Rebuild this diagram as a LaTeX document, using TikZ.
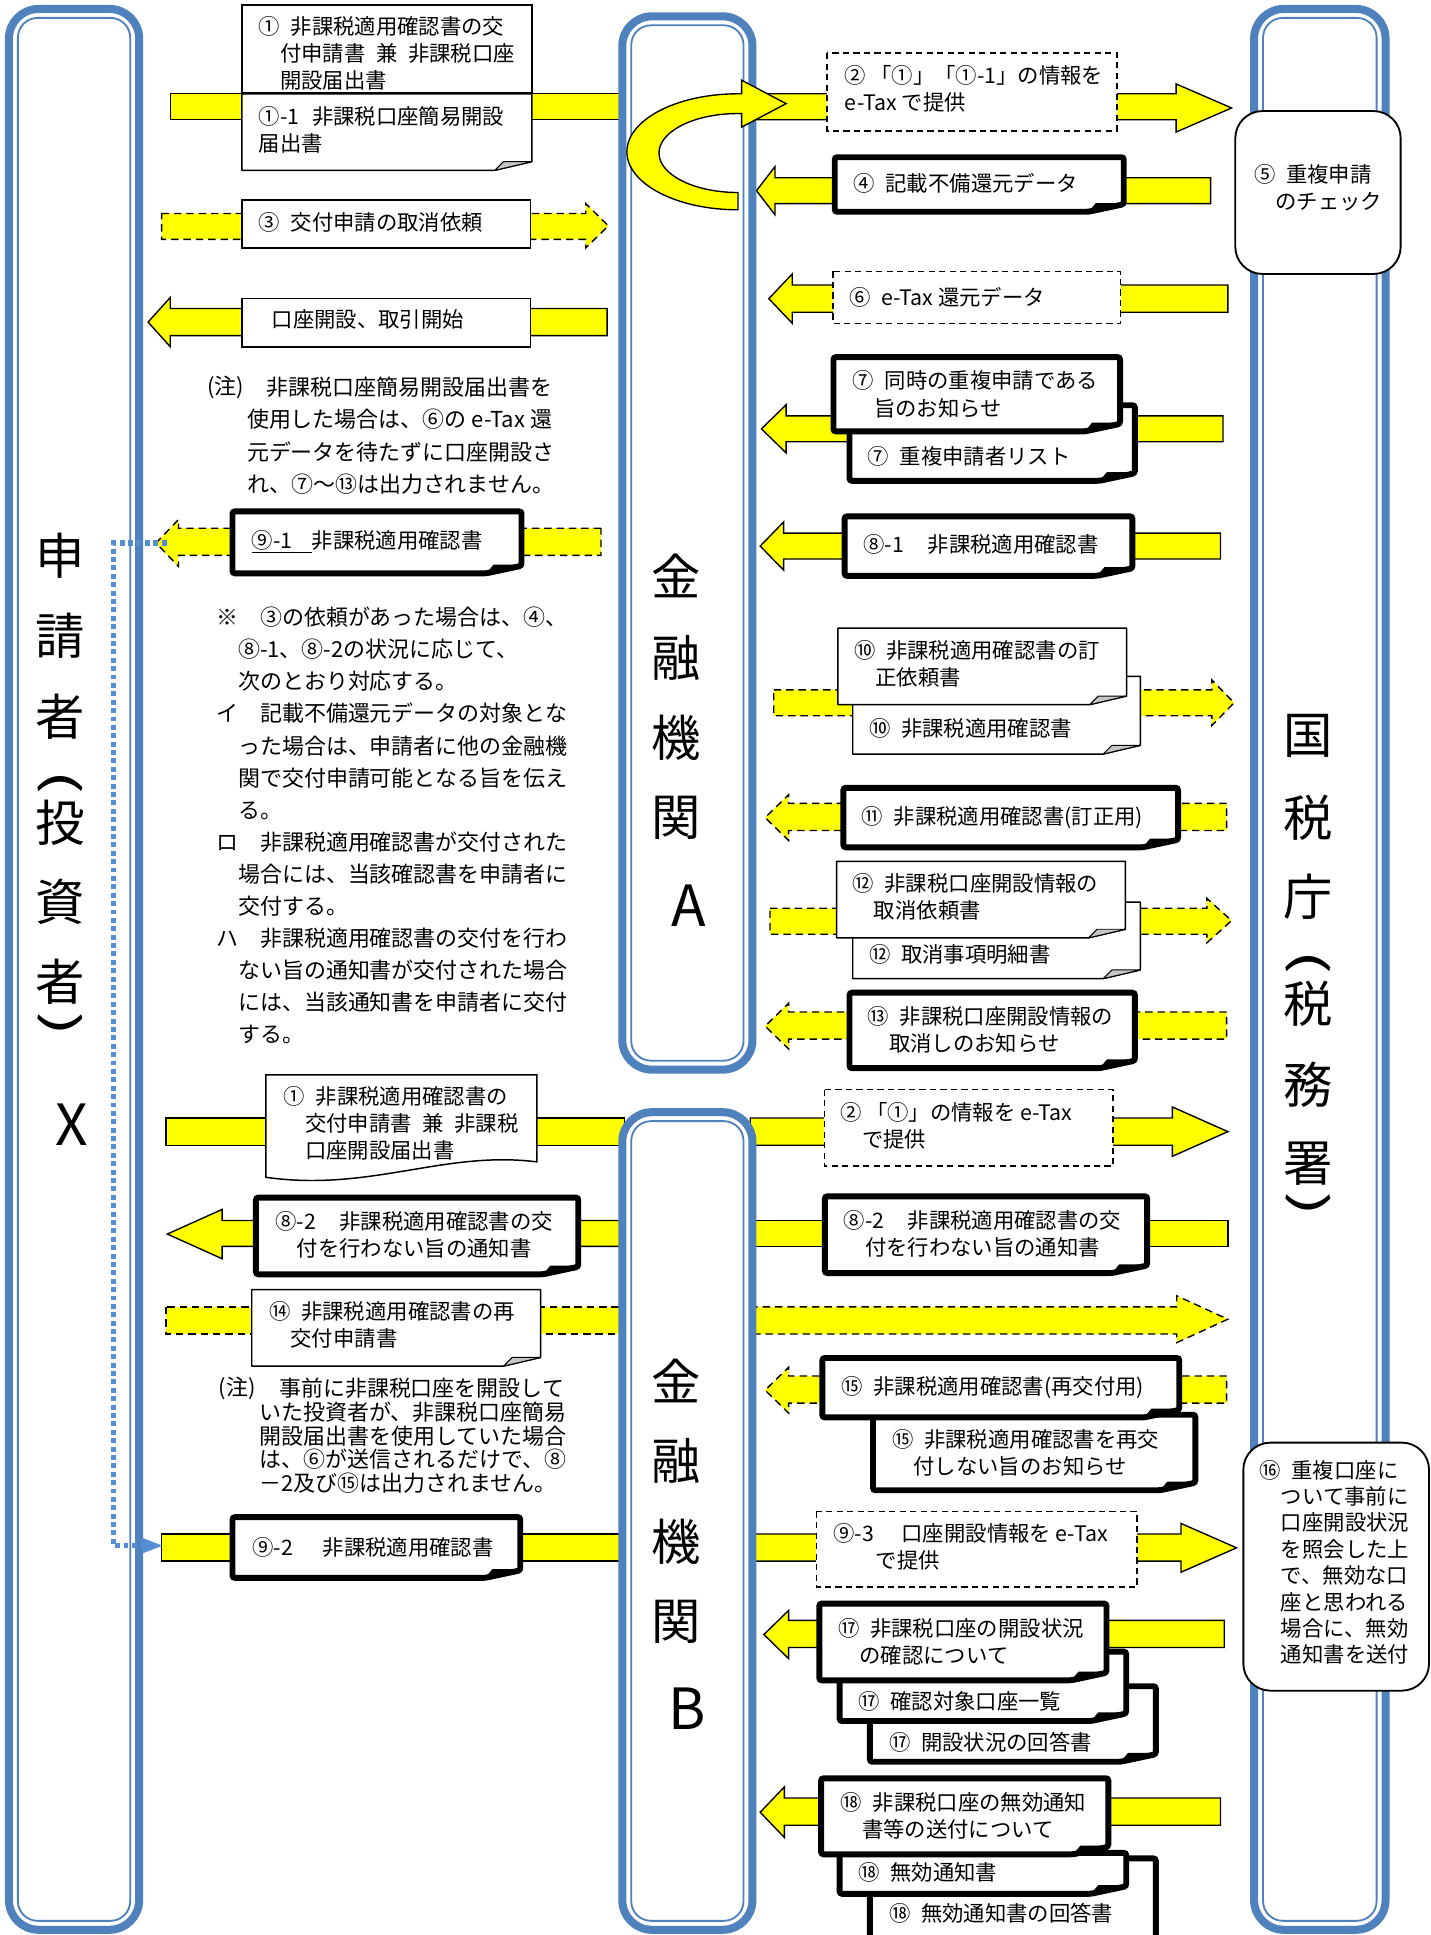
\documentclass[tikz,border=0pt]{standalone}
\usepackage{fontspec}
\setmainfont{Noto Sans CJK JP}
\definecolor{laneblue}{HTML}{4F81BD}
\definecolor{dotblue}{HTML}{558ED5}
\definecolor{ayellow}{HTML}{FFFF00}
\newcommand{\boxfnt}{\fontsize{17.3pt}{22pt}\selectfont}
\newcommand{\notefnt}{\fontsize{17.8pt}{26pt}\selectfont}
\newcommand{\notefntb}{\fontsize{17.8pt}{19.3pt}\selectfont}
\newcommand{\sixfnt}{\fontsize{17.3pt}{21.4pt}\selectfont}
\newcommand{\bigfnt}{\fontsize{40pt}{40pt}\selectfont}
\newcommand{\latfnt}{\fontsize{46pt}{46pt}\selectfont}
\newcommand{\parfnt}{\fontsize{36pt}{36pt}\selectfont}
\newcommand{\gp}{\hspace{0.5em}}
\tikzset{
  arrowsty/.style={fill=ayellow, draw=black, line width=1.1pt, line join=miter},
  dsh/.style={dash pattern=on 6pt off 4pt},
  txt/.style={anchor=west, inner sep=0pt, align=left, font=\boxfnt},
  ntxt/.style={anchor=west, inner sep=0pt, align=left, font=\notefnt},
  big/.style={inner sep=0pt, font=\bigfnt},
  bigl/.style={inner sep=0pt, font=\latfnt},
  vpar/.style={inner sep=0pt, font=\parfnt, rotate=-90, xscale=1.7},
}
% block arrows
\newcommand{\larrow}[8][]{\draw[arrowsty,#1] (#4,#5) -- (#3,#5) -- (#3,#7) -- (#2,{(#7+#8)/2}) -- (#3,#8) -- (#3,#6) -- (#4,#6) -- cycle;}
\newcommand{\rarrow}[8][]{\draw[arrowsty,#1] (#2,#5) -- (#3,#5) -- (#3,#7) -- (#4,{(#7+#8)/2}) -- (#3,#8) -- (#3,#6) -- (#2,#6) -- cycle;}
\newcommand{\ybar}[5][]{\draw[arrowsty,#1] (#2,#3) rectangle (#4,#5);}
% lanes
\newcommand{\lanebox}[4]{%
  \draw[laneblue, line width=6.5pt, fill=white, rounded corners=24pt] ({#1+3.25},{#2+3.25}) rectangle ({#3-3.25},{#4-3.25});
  \draw[laneblue, line width=1.5pt, rounded corners=16pt] ({#1+10.5},{#2+10.5}) rectangle ({#3-10.5},{#4-10.5});}
% boxes
\newcommand{\plainbox}[4]{\draw[fill=white, line width=1.2pt] (#1,#2) rectangle (#3,#4);}
\newcommand{\dshbox}[4]{\draw[fill=white, line width=1.2pt, dash pattern=on 5pt off 3.5pt] (#1,#2) rectangle (#3,#4);}
\newcommand{\roundbox}[4]{\draw[fill=white, line width=1.5pt, rounded corners=22pt] (#1,#2) rectangle (#3,#4);}
\newcommand{\foldbox}[4]{%
  \draw[fill=white, line width=1.2pt, line join=round] (#1,#2) -- (#3,#2) -- (#3,{#4-7}) -- ({#3-30},#4) -- (#1,#4) -- cycle;
  \draw[fill=gray!45, line width=0.8pt, line join=round] ({#3-30},#4) -- ({#3-23},{#4-7}) -- (#3,{#4-7}) -- cycle;}
\newcommand{\thickbox}[4]{%
  \draw[fill=white, line width=4.8pt, rounded corners=2pt] ({#1+2.4},{#2+2.4}) -- ({#3-2.4},{#2+2.4}) -- ({#3-2.4},{#4-8.5}) -- ({#3-31},{#4-2.4}) -- ({#1+2.4},{#4-2.4}) -- cycle;
  \fill ({#3-31},{#4-2.4}) -- ({#3-25},{#4-9.5}) -- ({#3-2.4},{#4-9.5}) -- cycle;}
\begin{document}
\begin{tikzpicture}[x=1pt,y=-1pt]
\useasboundingbox (0,0) rectangle (1159,1568);
\fill[white] (0,0) rectangle (1159,1568);
\begin{scope}
\clip (0,0) rectangle (1159,1568);
% ---------- arrows (behind lanes) ----------
\ybar{138}{76}{506}{97}
\rarrow{608}{953}{998}{76}{97}{68}{107}
\rarrow[dsh]{131}{474.6}{493}{173}{194}{165}{201}
\larrow{120}{138}{492}{250}{272}{241}{281}
\larrow[dsh]{126.5}{144.6}{487}{428}{450}{421}{459}
\larrow{613}{628}{981}{144}{165}{135}{174}
\larrow{623}{642}{995}{231}{253}{222}{262}
\larrow{617}{637}{991}{337}{358}{328}{367}
\larrow{616}{635}{989}{432}{453}{423}{462}
\rarrow[dsh]{627}{982}{1000}{559}{580}{551}{588}
\larrow[dsh]{620}{639}{994}{651}{673}{644}{681}
\rarrow[dsh]{624}{978}{998}{736}{757}{728}{764}
\larrow[dsh]{620}{639}{994}{820}{842}{813}{850}
\ybar{134.5}{906}{506}{928}
\rarrow{608}{950}{995}{906}{928}{897}{937}
\larrow{135.6}{180}{506}{989}{1010}{980}{1020}
\ybar{608}{989}{995}{1010}
\ybar[dsh]{134.5}{1059}{506}{1081}
\rarrow[dsh]{608}{953.5}{995}{1059}{1081}{1050}{1088}
\larrow[dsh]{620}{639}{994}{1115}{1137}{1108}{1145}
\ybar{131}{1243}{506}{1265}
\rarrow{608}{957}{1002}{1243}{1265}{1234.5}{1274}
\larrow{619}{639}{992}{1313}{1335}{1305}{1344}
\larrow{616}{635.6}{989}{1457}{1479}{1448}{1489}
% ---------- lanes ----------
\lanebox{4}{4}{116}{1567}
\lanebox{501}{10}{613}{870}
\lanebox{501}{898}{613}{1567}
\lanebox{1013}{4}{1126}{1567}
% ---------- circular arrow ----------
\draw[arrowsty] (598,76) arc[start angle=270, end angle=90, x radius=90, y radius=47]
  -- (598,156) arc[start angle=90, end angle=270, x radius=64, y radius=32]
  -- (601,92) -- (601,103) -- (637,84) -- (601,65) -- (601,76) -- cycle;
% ---------- boxes ----------
\plainbox{196}{4}{431}{75}
\foldbox{196}{76}{431}{138}
\plainbox{196}{162}{430}{201}
\plainbox{196}{242}{430}{281}
\dshbox{670}{43}{905}{106}
\thickbox{674}{125}{913}{174}
\roundbox{1001}{90}{1135}{222}
\dshbox{675}{220}{908}{262}
\thickbox{686}{326}{922}{392}
\thickbox{673}{287}{910}{352}
\thickbox{682}{416}{920}{469}
\foldbox{691}{548}{924}{611}
\foldbox{679}{509}{913}{571}
\thickbox{681}{636}{957}{689}
\foldbox{691}{731}{924}{793}
\foldbox{678}{698}{912}{760}
\thickbox{686}{802}{922}{868}
\thickbox{186}{412}{425}{467}
\draw[fill=white, line width=1.2pt] (215.5,871) -- (435,871) -- (435,941.5)
  .. controls (360,932) and (300,966) .. (215.5,954) -- cycle;
\dshbox{668}{883}{902}{945}
\thickbox{205}{968}{471}{1035}
\thickbox{666}{967}{932}{1034}
\foldbox{204}{1045}{438}{1107}
\thickbox{705}{1144}{971}{1210}
\thickbox{664}{1098}{958}{1151}
\thickbox{186}{1227}{424}{1281}
\dshbox{661.5}{1225}{921.5}{1286}
\roundbox{1007.5}{1169}{1158}{1370}
\thickbox{702.5}{1364}{939}{1430}
\thickbox{678}{1336}{915}{1397}
\thickbox{661.5}{1297}{899}{1364}
\thickbox{702.5}{1503.5}{939}{1590}
\thickbox{678}{1499}{915}{1537}
\thickbox{663}{1438.6}{900.5}{1505}
% ---------- texts left ----------
\node[txt] (t1) at (209.5,43) {①\gp 非課税適用確認書の交\\　付申請書\gp 兼\gp 非課税口座\\　開設届出書};
\node[txt] (t1a) at (209.5,105.2) {①-1\hspace{0.6em}非課税口座簡易開設\\届出書};
\node[txt] (t3) at (209.5,180) {③\gp 交付申請の取消依頼};
\node[txt] (tk) at (220,259) {口座開設、取引開始};
\node[ntxt] (n1h) at (168,314) {(注)};
\node[ntxt] (n1) at (200,353) {\hspace{0.9em}非課税口座簡易開設届出書を\\使用した場合は、⑥の e-Tax 還\\元データを待たずに口座開設さ\\れ、⑦～⑬は出力されません。};
\node[txt] (t91) at (204,439) {\underline{⑨-1\hspace{0.9em}}非課税適用確認書};
\node[ntxt] (n2) at (175,669) {※　③の依頼があった場合は、④、\\　⑧-1、⑧-2の状況に応じて、\\　次のとおり対応する。\\イ　記載不備還元データの対象とな\\　った場合は、申請者に他の金融機\\　関で交付申請可能となる旨を伝え\\　る。\\ロ　非課税適用確認書が交付された\\　場合には、当該確認書を申請者に\\　交付する。\\ハ　非課税適用確認書の交付を行わ\\　ない旨の通知書が交付された場合\\　には、当該通知書を申請者に交付\\　する。};
\node[txt] (tb1) at (229.8,910.5) {①\gp 非課税適用確認書の\\　交付申請書\gp 兼\gp 非課税\\　口座開設届出書};
\node[txt] (t82l) at (223,1000.8) {⑧-2\hspace{1.1em}非課税適用確認書の交\\　付を行わない旨の通知書};
\node[txt] (t14) at (218,1073.5) {⑭\gp 非課税適用確認書の再\\　交付申請書};
\node[ntxt] (n3h) at (177,1125) {(注)};
\node[ntxt, font=\notefntb] (n3) at (210,1163.5) {\hspace{0.9em}事前に非課税口座を開設して\\いた投資者が、非課税口座簡易\\開設届出書を使用していた場合\\は、⑥が送信されるだけで、⑧\\－2及び⑮は出力されません。};
\node[txt] (t92) at (204.3,1253.6) {⑨-2\hspace{1.4em}非課税適用確認書};
% ---------- texts right ----------
\node[txt] (t2) at (684.5,72) {②\hspace{0.2em}「①」「①-1」の情報を\\e-Tax で提供};
\node[txt] (t4) at (691.5,148.6) {④\gp 記載不備還元データ};
\node[txt] (t5) at (1016,152) {⑤\gp 重複申請\\　のチェック};
\node[txt] (t6) at (688,241) {⑥\gp e-Tax 還元データ};
\node[txt] (t7a) at (690.8,319.5) {⑦\gp 同時の重複申請である\\　旨のお知らせ};
\node[txt] (t7b) at (703,370) {⑦\gp 重複申請者リスト};
\node[txt] (t81) at (699.6,441) {⑧-1\hspace{1.1em}非課税適用確認書};
\node[txt] (t10a) at (692,538) {⑩\gp 非課税適用確認書の訂\\　正依頼書};
\node[txt] (t10b) at (704,590) {⑩\gp 非課税適用確認書};
\node[txt] (t11) at (698,662.5) {⑪\gp 非課税適用確認書(訂正用)};
\node[txt] (t12a) at (690.7,727) {⑫\gp 非課税口座開設情報の\\　取消依頼書};
\node[txt] (t12b) at (704,773.4) {⑫\gp 取消事項明細書};
\node[txt] (t13) at (703,834.8) {⑬\gp 非課税口座開設情報の\\　取消しのお知らせ};
\node[txt] (tb2) at (681,912.3) {②\hspace{0.2em}「①」の情報を e-Tax\\　で提供};
\node[txt] (t82r) at (683.5,1000) {⑧-2\hspace{1.1em}非課税適用確認書の交\\　付を行わない旨の通知書};
\node[txt] (t15a) at (681.7,1124) {⑮\gp 非課税適用確認書(再交付用)};
\node[txt] (t15b) at (722.8,1177) {⑮\gp 非課税適用確認書を再交\\　付しない旨のお知らせ};
\node[txt] (t93) at (675,1253.5) {⑨-3\hspace{1.3em}口座開設情報を e-Tax\\\hspace{2em}で提供};
\node[txt, font=\sixfnt] (t16) at (1020.5,1266) {⑯\gp 重複口座に\\　ついて事前に\\　口座開設状況\\　を照会した上\\　で、無効な口\\　座と思われる\\　場合に、無効\\　通知書を送付};
\node[txt] (t17a) at (679,1330.7) {⑰\gp 非課税口座の開設状況\\　の確認について};
\node[txt] (t17b) at (695.4,1379) {⑰\gp 確認対象口座一覧};
\node[txt] (t17c) at (720.3,1411.6) {⑰\gp 開設状況の回答書};
\node[txt] (t18a) at (681,1471.6) {⑱\gp 非課税口座の無効通知\\　書等の送付について};
\node[txt] (t18b) at (695.4,1517) {⑱\gp 無効通知書};
\node[txt] (t18c) at (720.3,1550.6) {⑱\gp 無効通知書の回答書};
% ---------- lane titles ----------
\node[big] (l1) at (49,450) {申};
\node[big] (l2) at (49,515) {請};
\node[big] (l3) at (49,581) {者};
\node[vpar] (l4) at (49,634) {(};
\node[big] (l5) at (49,667) {投};
\node[big] (l6) at (49,731) {資};
\node[big] (l7) at (49,795.5) {者};
\node[vpar] (l8) at (49,830) {)};
\node[bigl] (l9) at (58,911) {X};
\node[big] (a1) at (548,467) {金};
\node[big] (a2) at (548,533) {融};
\node[big] (a3) at (548,598) {機};
\node[big] (a4) at (548,663) {関};
\node[bigl] (a5) at (558,734) {A};
\node[big] (b1) at (548,1119) {金};
\node[big] (b2) at (548,1184) {融};
\node[big] (b3) at (548,1249) {機};
\node[big] (b4) at (548,1314) {関};
\node[bigl] (b5) at (557,1385) {B};
\node[big] (r1) at (1060,596) {国};
\node[big] (r2) at (1060,663) {税};
\node[big] (r3) at (1060,727) {庁};
\node[vpar] (r4) at (1060,780) {(};
\node[big] (r5) at (1060,813) {税};
\node[big] (r6) at (1060,879) {務};
\node[big] (r7) at (1060,943) {署};
\node[vpar] (r8) at (1060,976) {)};
% ---------- dotted link ----------
\coordinate (d1) at (135,440);
\coordinate (d2) at (115,1252.5);
\draw[dotblue, line width=4.5pt, dash pattern=on 4pt off 2.8pt] (d1) -- (92,440) -- (92,1252.5) -- (d2);
\fill[dotblue] (115,1246) -- (131.5,1252.5) -- (115,1259) -- cycle;
\end{scope}
\end{tikzpicture}
\end{document}
